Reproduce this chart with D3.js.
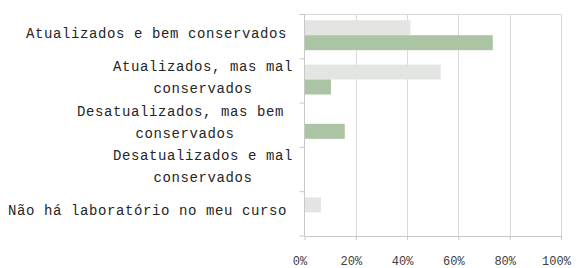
<!DOCTYPE html>
<html><head><meta charset="utf-8">
<script src="https://cdn.jsdelivr.net/npm/d3@7"></script>
<style>html,body{margin:0;padding:0;background:#fff;}svg{display:block;}text{white-space:pre;}</style>
</head><body>
<svg id="chart" width="582" height="268"></svg>
<script>
const categories = [
  ["Atualizados e bem conservados"],
  ["Atualizados, mas mal", "conservados"],
  ["Desatualizados, mas bem ", "conservados"],
  ["Desatualizados e mal", "conservados"],
  ["Não há laboratório no meu curso"]
];
const seriesNames = ["Série 1", "Série 2"];
const seriesA = [0.413, 0.531, 0, 0, 0.064];
const seriesB = [0.734, 0.103, 0.157, 0, 0];
const tickValues = [0, 0.2, 0.4, 0.6, 0.8, 1.0];
const tickLabels = ["0%", "20%", "40%", "60%", "80%", "100%"];

(function () {
const colors = ["#e3e5e2", "#abc4a3"];
const svg = d3.select("#chart");
const pLeft = 304.5, pRight = 561, pTop = 14.5, pBottom = 236;
const catIdx = categories.map((c, i) => i);
const x = d3.scaleLinear().domain([0, 1]).range([pLeft, pRight]);
const y = d3.scaleBand().domain(catIdx).range([pTop, pBottom]).padding(0);
const sub = d3.scaleBand().domain(seriesNames).range([0, y.bandwidth()])
  .paddingInner(0).paddingOuter(0.48).align(0.4);

// gridlines
svg.append("g").selectAll("line").data(tickValues.slice(1)).join("line")
  .attr("x1", d => Math.round(x(d)) + 0.5).attr("x2", d => Math.round(x(d)) + 0.5)
  .attr("y1", pTop).attr("y2", pBottom)
  .attr("stroke", "#d9d9d9").attr("stroke-width", 1);
// top border
svg.append("line").attr("x1", pLeft - 5).attr("x2", pRight + 0.5)
  .attr("y1", pTop).attr("y2", pTop).attr("stroke", "#d9d9d9");

// bars
const series = [seriesA, seriesB];
series.forEach((vals, si) => {
  svg.append("g").selectAll("rect").data(vals).join("rect")
    .attr("x", x(0))
    .attr("y", (d, i) => y(i) + sub(seriesNames[si]))
    .attr("width", d => x(d) - x(0))
    .attr("height", sub.bandwidth())
    .attr("fill", colors[si]);
});

// y axis
const yAxisG = svg.append("g");
yAxisG.append("line").attr("x1", pLeft).attr("x2", pLeft).attr("y1", pTop).attr("y2", pBottom)
  .attr("stroke", "#c8c8c8");
const yTicks = d3.range(categories.length + 1).map(i => pTop + i * y.step());
yAxisG.selectAll("line.t").data(yTicks).join("line").attr("class", "t")
  .attr("x1", pLeft - 5).attr("x2", pLeft).attr("y1", d => d).attr("y2", d => d)
  .attr("stroke", "#c8c8c8");

// x axis
const xAxis = d3.axisBottom(x).tickValues(tickValues).tickFormat((d, i) => tickLabels[i])
  .tickSizeInner(4).tickSizeOuter(0);
const xg = svg.append("g").attr("transform", `translate(0,${pBottom})`).call(xAxis);
xg.select(".domain").attr("stroke", "#c8c8c8");
xg.selectAll(".tick line").attr("stroke", "#c8c8c8");
xg.selectAll(".tick text").attr("y", 29).attr("dx", -5).attr("dy", 0)
  .attr("font-family", "'Liberation Mono', 'Courier New', monospace")
  .attr("font-size", 12).attr("fill", "#404040");

// category labels
const labelG = svg.append("g")
  .attr("font-family", "'Liberation Mono', 'Courier New', monospace")
  .attr("font-size", 14).attr("fill", "#262626").attr("letter-spacing", 0.6);
const lineH = 22;
categories.forEach((lines, i) => {
  const c = y(i) + y.bandwidth() / 2;
  const n = lines.length;
  const maxLen = d3.max(lines, l => l.length);
  const blockRight = n > 1 ? 293 : 287;
  const cx = blockRight - maxLen * 9 / 2;
  lines.forEach((l, j) => {
    labelG.append("text")
      .attr("x", cx).attr("text-anchor", "middle")
      .attr("y", c - 3 + 4.5 + (j - (n - 1) / 2) * lineH)
      .text(l);
  });
});
})();
</script>
</body></html>
